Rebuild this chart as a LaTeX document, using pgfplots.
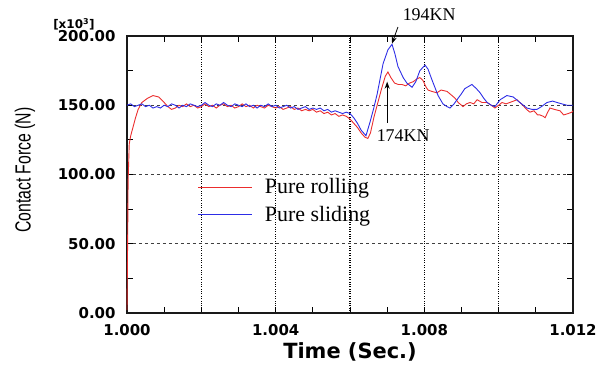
\documentclass[border=0pt]{standalone}
\usepackage{pgfplots}
\pgfplotsset{compat=1.18}
\usepackage{fontspec}
\setmainfont{Liberation Serif}
\newfontfamily\tickfont{DejaVu Sans}
\newfontfamily\narrowfont{Liberation Sans}[FakeStretch=0.72]
\usetikzlibrary{arrows.meta}
\definecolor{cred}{RGB}{235,45,45}
\definecolor{cblue}{RGB}{45,45,230}
\begin{document}
\begin{tikzpicture}
\begin{axis}[name=ax, scale only axis, width=446bp, height=277bp,
  xmin=0, xmax=12, ymin=0, ymax=200, clip=false,
  xtick={0,2,...,12}, xticklabels={1.000,,1.004,,1.008,,1.012},
  minor x tick num=1,
  ytick={0,50,...,200}, minor y tick num=1,
  yticklabel={\pgfmathprintnumber[fixed,fixed zerofill,precision=2,assume math mode=true]{\tick}},
  ticklabel style={font=\tickfont\bfseries\fontsize{15}{15}\selectfont},
  xticklabel style={yshift=-8bp},
  yticklabel style={xshift=-8bp},
  xmajorgrids, ymajorgrids,
  x grid style={dotted, black, line width=1.1pt},
  y grid style={dashed, black!75, line width=0.7pt},
  axis line style={line width=1.2pt, black!90},
  major tick length=6bp, minor tick length=6bp,
  every tick/.style={black, line width=0.8pt},
  xlabel={Time (Sec.)},
  xlabel style={at={(axis description cs:0.5,-0.141)}, anchor=center, font=\tickfont\bfseries\fontsize{21}{21}\selectfont},
  ylabel={Contact Force (N)},
  ylabel style={at={(axis description cs:-0.229,0.516)}, anchor=center, font=\narrowfont\fontsize{22}{22}\selectfont},
  legend style={draw=none, fill=none, at={(axis description cs:0.152,0.50)}, anchor=north west,
    font=\fontsize{22}{22}\selectfont, row sep=7bp, legend cell align=left},
  legend image code/.code={\draw[#1] (0bp,0bp) -- (54bp,0bp); \path (64bp,0bp);},
]
\addplot[cred, line width=0.9pt] coordinates {
(0.000,2) (0.020,60) (0.030,95) (0.060,122) (0.100,128) (0.160,134) (0.230,141) (0.300,147)
(0.400,152) (0.550,155) (0.700,157) (0.850,156) (1.000,152) (1.100,149) (1.200,147) (1.300,148)
(1.400,150) (1.500,149) (1.600,151) (1.700,149) (1.800,150) (1.900,148) (2.000,149) (2.100,151)
(2.200,149) (2.300,150) (2.400,148) (2.500,150) (2.600,151) (2.700,149) (2.800,150) (2.900,148)
(3.000,149) (3.100,151) (3.200,149) (3.300,150) (3.400,148) (3.500,150) (3.600,149) (3.700,148)
(3.800,150) (3.900,149) (4.000,148) (4.100,149) (4.200,147) (4.300,148) (4.400,149) (4.500,147)
(4.600,148) (4.700,146) (4.800,147) (4.900,146) (5.000,147) (5.100,145) (5.200,146) (5.300,144)
(5.400,145) (5.500,143) (5.600,144) (5.700,142) (5.800,143) (5.900,142) (6.000,140) (6.100,137)
(6.200,134) (6.300,130) (6.400,127) (6.480,126) (6.550,130) (6.650,142) (6.750,152) (6.850,162)
(6.950,171) (7.020,174) (7.100,170) (7.200,166) (7.300,165) (7.400,165) (7.500,164) (7.600,166)
(7.700,167) (7.800,169) (7.880,170) (7.960,168) (8.050,163) (8.100,161) (8.200,160) (8.340,159)
(8.450,161) (8.610,160) (8.700,158) (8.830,155) (8.910,152) (9.000,150) (9.040,149) (9.130,151)
(9.230,152) (9.330,151) (9.420,154) (9.550,152) (9.690,152) (9.800,150) (9.900,148) (10.000,150)
(10.090,152) (10.200,151) (10.300,152) (10.400,153) (10.490,154) (10.650,150) (10.750,147) (10.840,145)
(10.950,146) (11.050,143) (11.110,143) (11.200,142) (11.250,141) (11.320,145) (11.380,148) (11.500,147)
(11.650,146) (11.750,143) (11.870,144) (11.970,145) (12.000,146)
};
\addlegendentry{Pure rolling}
\addplot[cblue, line width=0.9pt] coordinates {
(0.000,150) (0.100,151) (0.200,149) (0.300,150) (0.400,151) (0.500,149) (0.600,150) (0.700,148)
(0.800,149) (0.900,148) (1.000,150) (1.100,149) (1.200,151) (1.300,150) (1.400,148) (1.500,150)
(1.600,149) (1.700,151) (1.800,150) (1.900,149) (2.000,150) (2.100,152) (2.200,150) (2.300,149)
(2.400,151) (2.500,150) (2.600,152) (2.700,150) (2.800,149) (2.900,151) (3.000,150) (3.100,149)
(3.200,151) (3.300,149) (3.400,150) (3.500,148) (3.600,150) (3.700,149) (3.800,151) (3.900,149)
(4.000,150) (4.100,148) (4.200,149) (4.300,150) (4.400,148) (4.500,149) (4.600,147) (4.700,148)
(4.800,149) (4.900,147) (5.000,148) (5.100,147) (5.200,148) (5.300,146) (5.400,147) (5.500,145)
(5.600,146) (5.700,145) (5.800,144) (5.900,145) (6.000,144) (6.100,141) (6.200,137) (6.300,132)
(6.430,128) (6.540,138) (6.640,148) (6.730,158) (6.890,180) (7.020,190) (7.130,194) (7.210,187)
(7.290,178) (7.430,170) (7.530,166) (7.670,163) (7.770,167) (7.880,175) (8.020,179) (8.100,176)
(8.210,168) (8.370,157) (8.500,151) (8.610,149) (8.690,148) (8.800,151) (8.880,154) (8.990,158)
(9.090,162) (9.280,165) (9.400,162) (9.500,159) (9.600,155) (9.690,152) (9.800,150) (9.900,149)
(10.040,154) (10.220,157) (10.390,156) (10.570,152) (10.760,148) (10.900,147) (11.030,147) (11.150,149)
(11.300,152) (11.450,153) (11.570,152) (11.700,151) (11.840,150) (12.000,150)
};
\addlegendentry{Pure sliding}
\draw[-{Stealth[length=7bp,width=5bp]}, line width=0.8pt] (axis cs:7.29,206.5) -- (axis cs:7.13,194.5);
\draw[-{Stealth[length=7bp,width=5bp]}, line width=0.8pt] (axis cs:7.0,137.5) -- (axis cs:7.0,167);
\node[font=\fontsize{18}{18}\selectfont] at (axis cs:8.13,215.2) {194KN};
\node[font=\fontsize{18}{18}\selectfont] at (axis cs:7.43,127.8) {174KN};
\node[font=\tickfont\bfseries\fontsize{12}{12}\selectfont] at (axis description cs:-0.119,1.043) {[x10\textsuperscript{3}]};
\end{axis}
\pgfresetboundingbox
\path[use as bounding box] ([xshift=-127bp,yshift=-54bp]ax.south west) rectangle ([xshift=30bp,yshift=36bp]ax.north east);
\end{tikzpicture}
\end{document}
